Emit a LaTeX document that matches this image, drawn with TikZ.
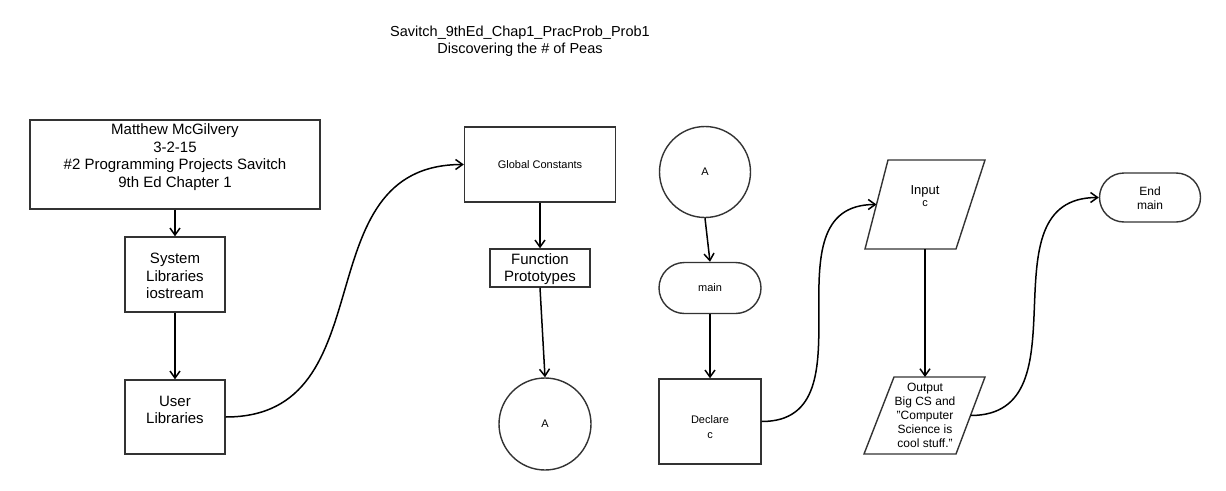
\documentclass[tikz,border=0pt]{standalone}
\usepackage{fontspec}
\setmainfont{Liberation Sans}
\usetikzlibrary{arrows.meta,shapes.misc}
\begin{document}
\begin{tikzpicture}[x=1pt,y=-1pt,
  shp/.style={draw=black!80,line width=1.4pt,fill=white,inner sep=0pt},
  box/.style={shp,rectangle},
  term/.style={shp,rounded rectangle},
  conn/.style={draw=black,line width=1.5pt,-{Straight Barb[length=7pt,width=10pt,line width=1.5pt]}},
  txt/.style={inner sep=0pt,align=center,text=black},
  big/.style={font=\fontsize{15}{17.5}\selectfont},
  mid/.style={font=\fontsize{12}{14}\selectfont},
  sml/.style={font=\fontsize{11}{14.5}\selectfont}]
\useasboundingbox (0,0) rectangle (1226,490);
% title
\node[txt,font=\fontsize{14.5}{17}\selectfont] (title) at (520,41) {Savitch\_9thEd\_Chap1\_PracProb\_Prob1\\Discovering the \# of Peas};
% left column
\node[box,minimum width=290,minimum height=89] (hdr) at (175,164.5) {};
\node[txt,big] (hdrt) at (175,157) {Matthew McGilvery\\3-2-15\\\#2 Programming Projects Savitch\\9th Ed Chapter 1};
\node[box,minimum width=100,minimum height=75] (sys) at (175,274.5) {};
\node[txt,big] (syst) at (175,276) {System\\Libraries\\iostream};
\node[box,minimum width=100,minimum height=74] (usr) at (175,417) {};
\node[txt,big] (usrt) at (175,410) {User\\Libraries};
% second column
\node[box,minimum width=151,minimum height=75] (gc) at (540,164.5) {};
\node[txt,sml] (gct) at (540,165) {Global Constants};
\node[box,minimum width=100,minimum height=38] (fp) at (540,268) {};
\node[txt,big] (fpt) at (540,269) {Function\\Prototypes};
\node[shp,circle,minimum size=92] (a1) at (545,424) {};
\node[txt,sml] (a1t) at (545,424) {A};
% third column
\node[shp,circle,minimum size=91] (a2) at (705,172) {};
\node[txt,sml] (a2t) at (705,172) {A};
\node[term,minimum width=102,minimum height=51] (mn) at (710,288) {};
\node[txt,sml] (mnt) at (710,288) {main};
\node[box,minimum width=102,minimum height=85] (dc) at (710,421.5) {};
\node[txt,sml] (dct) at (710,427) {Declare\\c};
% input parallelogram
\draw[shp] (888,160) -- (985,160) -- (956,249) -- (865,249) -- cycle;
\coordinate (inL) at (876.5,204.5);
\coordinate (inB) at (925,249);
\node[txt] (int) at (925,196) {{\fontsize{13}{14}\selectfont Input}\\{\fontsize{11}{13}\selectfont c}};
% output parallelogram
\draw[shp] (894,377) -- (985,377) -- (956,454) -- (864,454) -- cycle;
\coordinate (outT) at (925,377);
\coordinate (outR) at (970.5,415.5);
\node[txt,font=\fontsize{12}{14}\selectfont] (outt) at (925,415) {Output\\Big CS and\\"Computer\\Science is\\cool stuff."};
% end
\node[term,minimum width=101,minimum height=49] (end) at (1150,197.5) {};
\node[txt,mid] (endt) at (1150,198) {End\\main};
% connectors
\draw[conn] (hdr.south) -- (sys.north);
\draw[conn] (sys.south) -- (usr.north);
\draw[conn] (usr.east) to[out=0,in=180,looseness=1.2] (gc.west);
\draw[conn] (gc.south) -- (fp.north);
\draw[conn] (fp.south) -- (a1.north);
\draw[conn] (a2.south) -- (mn.north);
\draw[conn] (mn.south) -- (dc.north);
\draw[conn] (dc.east) to[out=0,in=180,looseness=1.2] (inL);
\draw[conn] (inB) -- (outT);
\draw[conn] (outR) to[out=0,in=180,looseness=1.2] (end.west);
\end{tikzpicture}
\end{document}
